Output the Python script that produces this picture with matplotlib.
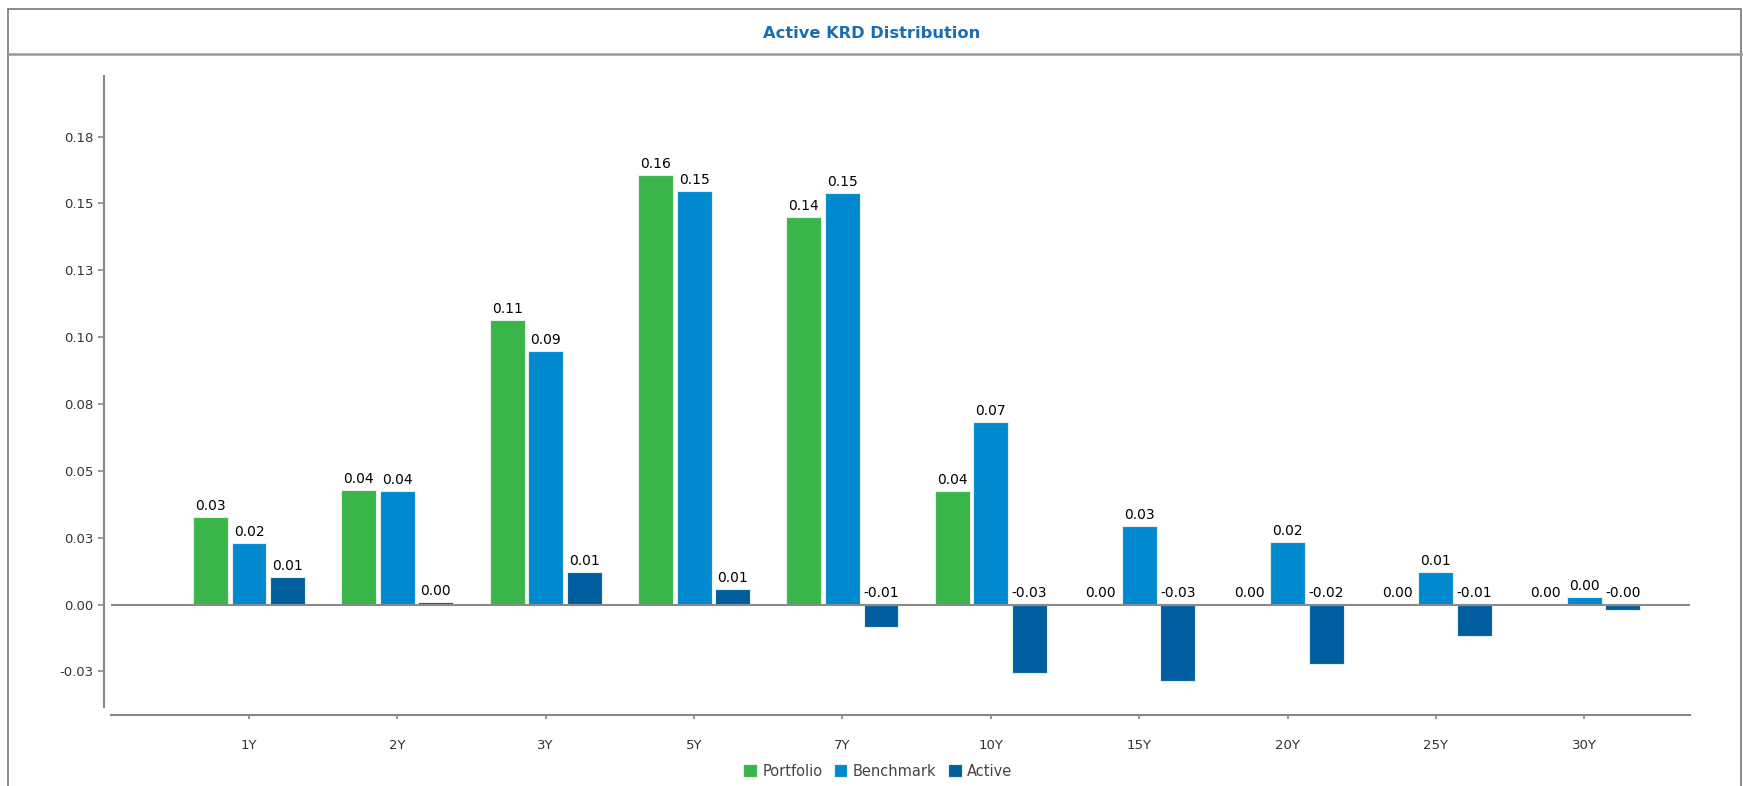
import matplotlib.pyplot as plt
import matplotlib.patches as patches
from matplotlib.lines import Line2D
import numpy as np

# data
tenors = ['1Y', '2Y', '3Y', '5Y', '7Y', '10Y', '15Y', '20Y', '25Y', '30Y']
portfolio = [0.0328, 0.0428, 0.1064, 0.1605, 0.1448, 0.0424, 0.0003, 0.0, 0.0, 0.0]
benchmark = [0.0229, 0.0424, 0.0948, 0.1546, 0.1538, 0.0682, 0.0295, 0.0233, 0.0121, 0.0029]
active = [0.0104, 0.0008, 0.0121, 0.0058, -0.0083, -0.0254, -0.0287, -0.0224, -0.0116, -0.0021]
series_names = ['Portfolio', 'Benchmark', 'Active']
ytick_vals = [-0.025, 0.0, 0.025, 0.05, 0.075, 0.1, 0.125, 0.15, 0.175]
ytick_labels = ['-0.03', '0.00', '0.03', '0.05', '0.08', '0.10', '0.13', '0.15', '0.18']

colors = ['#39b54a', '#0089cf', '#005da0']
W, H = 1743, 786

fig = plt.figure(figsize=(W / 100, H / 100), dpi=100)
fig.patch.set_facecolor('white')

# outer frame and header box
fig.add_artist(patches.Rectangle((8 / W, -0.01), (W - 10) / W, 1.01 - 9 / H, transform=fig.transFigure,
                                 fill=False, edgecolor='#777777', linewidth=1.2))
fig.add_artist(Line2D([8 / W, 1], [1 - 54 / H, 1 - 54 / H], transform=fig.transFigure,
                      color='#999999', linewidth=1.8))
fig.text(0.5, 1 - 33 / H, 'Active KRD Distribution', ha='center', va='center',
         fontsize=11.7, fontweight='bold', color='#1a6db3')

ax = fig.add_axes([111 / W, 1 - 707 / H, (1689.6 - 111) / W, (707 - 75.6) / H])
x = np.arange(len(tenors))
width = 0.235
offsets = [-0.26, 0.0, 0.26]

for vals, off, col, name in zip([portfolio, benchmark, active], offsets, colors, series_names):
    ax.bar(x + off, vals, width, color=col, edgecolor='#e6f0ea', linewidth=0.8, label=name, zorder=2)
    for xi, v in zip(x + off, vals):
        ax.annotate(f"{v:.2f}" if abs(v) >= 0.005 or v >= 0 else "-0.00",
                    (xi, max(v, 0)), xytext=(0, 3), textcoords='offset points',
                    ha='center', va='bottom', fontsize=10, color='#000000')

ax.axhline(0, color='#8a8a8a', linewidth=1.5, zorder=3)

ax.set_xlim(-0.93, 9.71)
ax.set_ylim(-0.0383, 0.1978)
ax.set_yticks(ytick_vals)
ax.set_yticklabels(ytick_labels)
ax.set_xticks(x)
ax.set_xticklabels(tenors)

for s in ['top', 'right']:
    ax.spines[s].set_visible(False)
ax.spines['left'].set_position(('outward', 4.7))
ax.spines['bottom'].set_position(('outward', 5.8))
for s in ['left', 'bottom']:
    ax.spines[s].set_color('#888888')
    ax.spines[s].set_linewidth(1.5)

ax.tick_params(axis='y', length=4, width=1.2, color='#888888', pad=4, labelsize=9.5, labelcolor='#333333')
ax.tick_params(axis='x', length=3, width=1.2, color='#888888', pad=14, labelsize=9.5, labelcolor='#333333')

fig.legend(loc='center', bbox_to_anchor=(878 / W, 1 - 771 / H), ncol=3, frameon=False,
           fontsize=10.5, handlelength=0.9, handleheight=0.9, handletextpad=0.4,
           columnspacing=0.8, labelcolor='#444444')

fig.savefig('out.png', dpi=100)
